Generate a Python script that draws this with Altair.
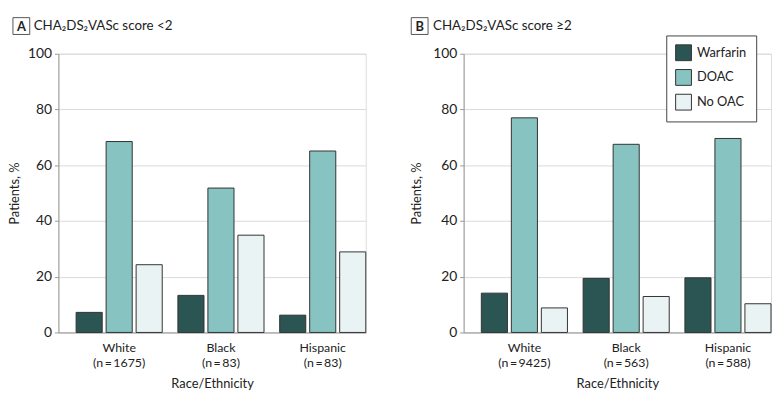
import altair as alt
import pandas as pd

FONT = "Lato"

treatments = ["Warfarin", "DOAC", "No OAC"]
colors = ["#2b5553", "#86c3c1", "#e9f3f4"]

races_a = ["White|(n\u2009=\u20091675)", "Black|(n\u2009=\u200983)", "Hispanic|(n\u2009=\u200983)"]
warfarin_a = [7.2, 13.3, 6.2]
doac_a = [68.5, 51.8, 65.1]
nooac_a = [24.3, 34.9, 28.9]

races_b = ["White|(n\u2009=\u20099425)", "Black|(n\u2009=\u2009563)", "Hispanic|(n\u2009=\u2009588)"]
warfarin_b = [14.1, 19.4, 19.6]
doac_b = [77.0, 67.5, 69.6]
nooac_b = [8.8, 12.9, 10.3]

y_ticks = [0, 20, 40, 60, 80, 100]


def make_df(races, w, d, n):
    rows = []
    for i, r in enumerate(races):
        for t, v in zip(treatments, [w[i], d[i], n[i]]):
            rows.append({"race": r, "treatment": t, "value": v})
    return pd.DataFrame(rows)


def panel(races, w, d, n, letter, title, width, title_x, box_x, text_x, show_legend):
    df = make_df(races, w, d, n)
    if show_legend:
        legend = alt.Legend(
            title=None, orient="none", legendX=205, legendY=-18.5,
            fillColor="white", strokeColor="#444", padding=9,
            symbolType="square", symbolSize=256, symbolStrokeColor="#333",
            symbolStrokeWidth=1, symbolOpacity=1,
            labelFont=FONT, labelFontSize=13, labelColor="#222",
            rowPadding=4, labelOffset=5,
        )
    else:
        legend = None
    bars = alt.Chart(df).mark_bar(stroke="#333", strokeWidth=1, opacity=1).encode(
        x=alt.X(
            "race:N", sort=races,
            scale=alt.Scale(paddingInner=0.154, paddingOuter=0.087, align=1),
            axis=alt.Axis(
                title="Race/Ethnicity", labelAngle=0, ticks=False,
                labelExpr="split(datum.label, '|')", labelLineHeight=15,
                labelPadding=9, titlePadding=9, domainColor="#999",
                labelFont=FONT, labelFontSize=12.5, labelColor="#222",
                titleFont=FONT, titleFontSize=13, titleFontWeight="normal",
                titleColor="#222", grid=False,
            ),
        ),
        xOffset=alt.XOffset("treatment:N", sort=treatments,
                            scale=alt.Scale(paddingInner=0.13, paddingOuter=0)),
        y=alt.Y(
            "value:Q", scale=alt.Scale(domain=[0, 100], nice=False),
            axis=alt.Axis(
                title="Patients, %", values=y_ticks, tickSize=4,
                tickColor="#999", domainColor="#999", labelPadding=3,
                gridColor="#dadada", gridWidth=1,
                labelFont=FONT, labelFontSize=14, labelColor="#222",
                titleFont=FONT, titleFontSize=13, titleFontWeight="normal",
                titleColor="#222", titleX=title_x,
            ),
        ),
        color=alt.Color("treatment:N", sort=treatments,
                        scale=alt.Scale(domain=treatments, range=colors),
                        legend=legend),
    )
    lab = pd.DataFrame({"letter": [letter], "title": [title]})
    box = alt.Chart(lab).mark_rect(fill="white", stroke="#555", strokeWidth=1).encode(
        x=alt.value(box_x), x2=alt.value(box_x + 17),
        y=alt.value(-36.5), y2=alt.value(-19.5),
    )
    letter_t = alt.Chart(lab).mark_text(
        font=FONT, fontSize=13, fontWeight="bold", color="#222",
        align="center", baseline="middle",
    ).encode(x=alt.value(box_x + 8.5), y=alt.value(-27.5), text="letter:N")
    title_t = alt.Chart(lab).mark_text(
        font=FONT, fontSize=13.5, color="#222", align="left", baseline="alphabetic",
    ).encode(x=alt.value(text_x), y=alt.value(-24), text="title:N")
    return alt.layer(bars, box, letter_t, title_t).properties(width=width, height=282)


left = panel(races_a, warfarin_a, doac_a, nooac_a, "A",
             "CHA\u2082DS\u2082VASc score <2", 311, -37, -46, -25, False)
right = panel(races_b, warfarin_b, doac_b, nooac_b, "B",
              "CHA\u2082DS\u2082VASc score \u22652", 311, -41, -53, -31, True)

chart = alt.hconcat(left, right, spacing=42).resolve_legend(
    color="independent"
).properties(
    padding={"left": 0, "top": 6, "right": 0, "bottom": 0}
).configure_view(stroke=None).configure(font=FONT)

chart.save("out.html", embed_options={"renderer": "svg", "actions": False})
